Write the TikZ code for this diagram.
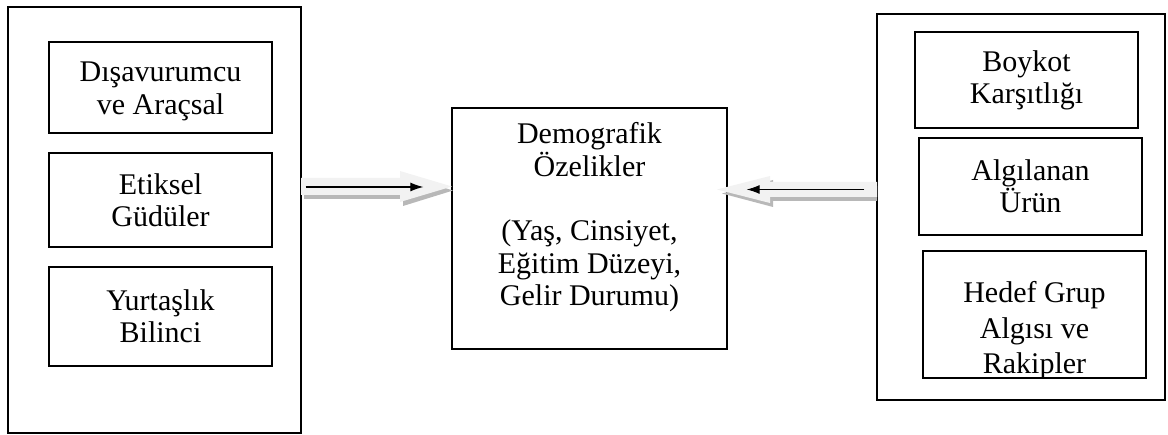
\documentclass[tikz,border=0pt]{standalone}
\usepackage{fontspec}
\setmainfont{Liberation Serif}
\usepackage{tikz}
\usetikzlibrary{arrows.meta, positioning, calc}

\tikzset{
    box/.style={draw, rectangle, line width=1.3pt, align=center, inner sep=0pt,
        font=\fontsize{30}{32}\selectfont},
    txt/.style={align=center, inner sep=0pt, font=\fontsize{30}{32.5}\selectfont},
    blockarr/.style={fill=black!5, draw=none},
    blockshadow/.style={fill=black!28, draw=none},
    linearr/.style={-{Latex[length=13pt,width=9pt]}, line width=1.1pt}
}

\begin{document}
\begin{tikzpicture}[x=1pt, y=-1pt]
    \useasboundingbox (0,0) rectangle (1168,435);

    % left group
    \node[box, minimum width=293pt, minimum height=426pt] (lout) at (154.5, 220) {};
    \node[box, minimum width=223pt, minimum height=91pt] (l1) at (160.5, 87.5) {};
    \node[txt] (l1txt) at (160.5, 91.5) {Dışavurumcu\\ve Araçsal};
    \node[box, minimum width=223pt, minimum height=94pt] (l2) at (160.5, 200) {Etiksel\\Güdüler};
    \node[box, minimum width=223pt, minimum height=99pt] (l3) at (160.5, 316.5) {Yurtaşlık\\Bilinci};

    % middle
    \node[box, minimum width=275pt, minimum height=241pt] (demo) at (589.5, 228.5) {};
    \node[txt] (demotxt) at (589.5, 217.5)
        {Demografik\\Özelikler\\[32pt](Yaş, Cinsiyet,\\Eğitim Düzeyi,\\Gelir Durumu)};

    % right group
    \node[box, minimum width=288pt, minimum height=386pt] (rout) at (1021, 207) {};
    \node[box, minimum width=223pt, minimum height=96pt] (r1) at (1026.5, 80) {Boykot\\Karşıtlığı};
    \node[box, minimum width=223pt, minimum height=97pt] (r2) at (1030.5, 186.5) {Algılanan\\Ürün};
    \node[box, minimum width=223pt, minimum height=127pt] (r3) at (1034.5, 314.5) {};
    \begin{scope}
        \clip (r3.south west) rectangle (r3.north east);
        \node[txt, font=\fontsize{30}{35.5}\selectfont] (r3txt) at (1034.5, 331) {Hedef Grup\\Algısı ve\\Rakipler};
    \end{scope}
    \draw[line width=1.3pt] (r3.south west) -- (r3.south east);

    % block arrows
    \fill[blockshadow, shift={(3,4)}] (301,178) -- (400,178) -- (400,171) -- (450,186.5)
        -- (400,202) -- (400,195) -- (301,195) -- cycle;
    \fill[blockarr] (301,178) -- (400,178) -- (400,171) -- (452,186.5)
        -- (400,202) -- (400,195) -- (301,195) -- cycle;
    \fill[blockshadow, shift={(3,4)}] (874,182) -- (770,182) -- (770,176) -- (719,189.5)
        -- (770,203) -- (770,197) -- (874,197) -- cycle;
    \fill[blockarr] (877,182) -- (770,182) -- (770,176) -- (717,189.5)
        -- (770,203) -- (770,197) -- (877,197) -- cycle;

    \coordinate (lt) at ([xshift=4pt]lout.east |- 0,187);
    \coordinate (lh) at ([xshift=-28pt]demo.west |- 0,187);
    \coordinate (rt) at ([xshift=-12pt]rout.west |- 0,189.5);
    \coordinate (rh) at ([xshift=19pt]demo.east |- 0,189.5);

    \draw[linearr] (lt) -- (lh);
    \draw[linearr] (rt) -- (rh);
\end{tikzpicture}
\end{document}
